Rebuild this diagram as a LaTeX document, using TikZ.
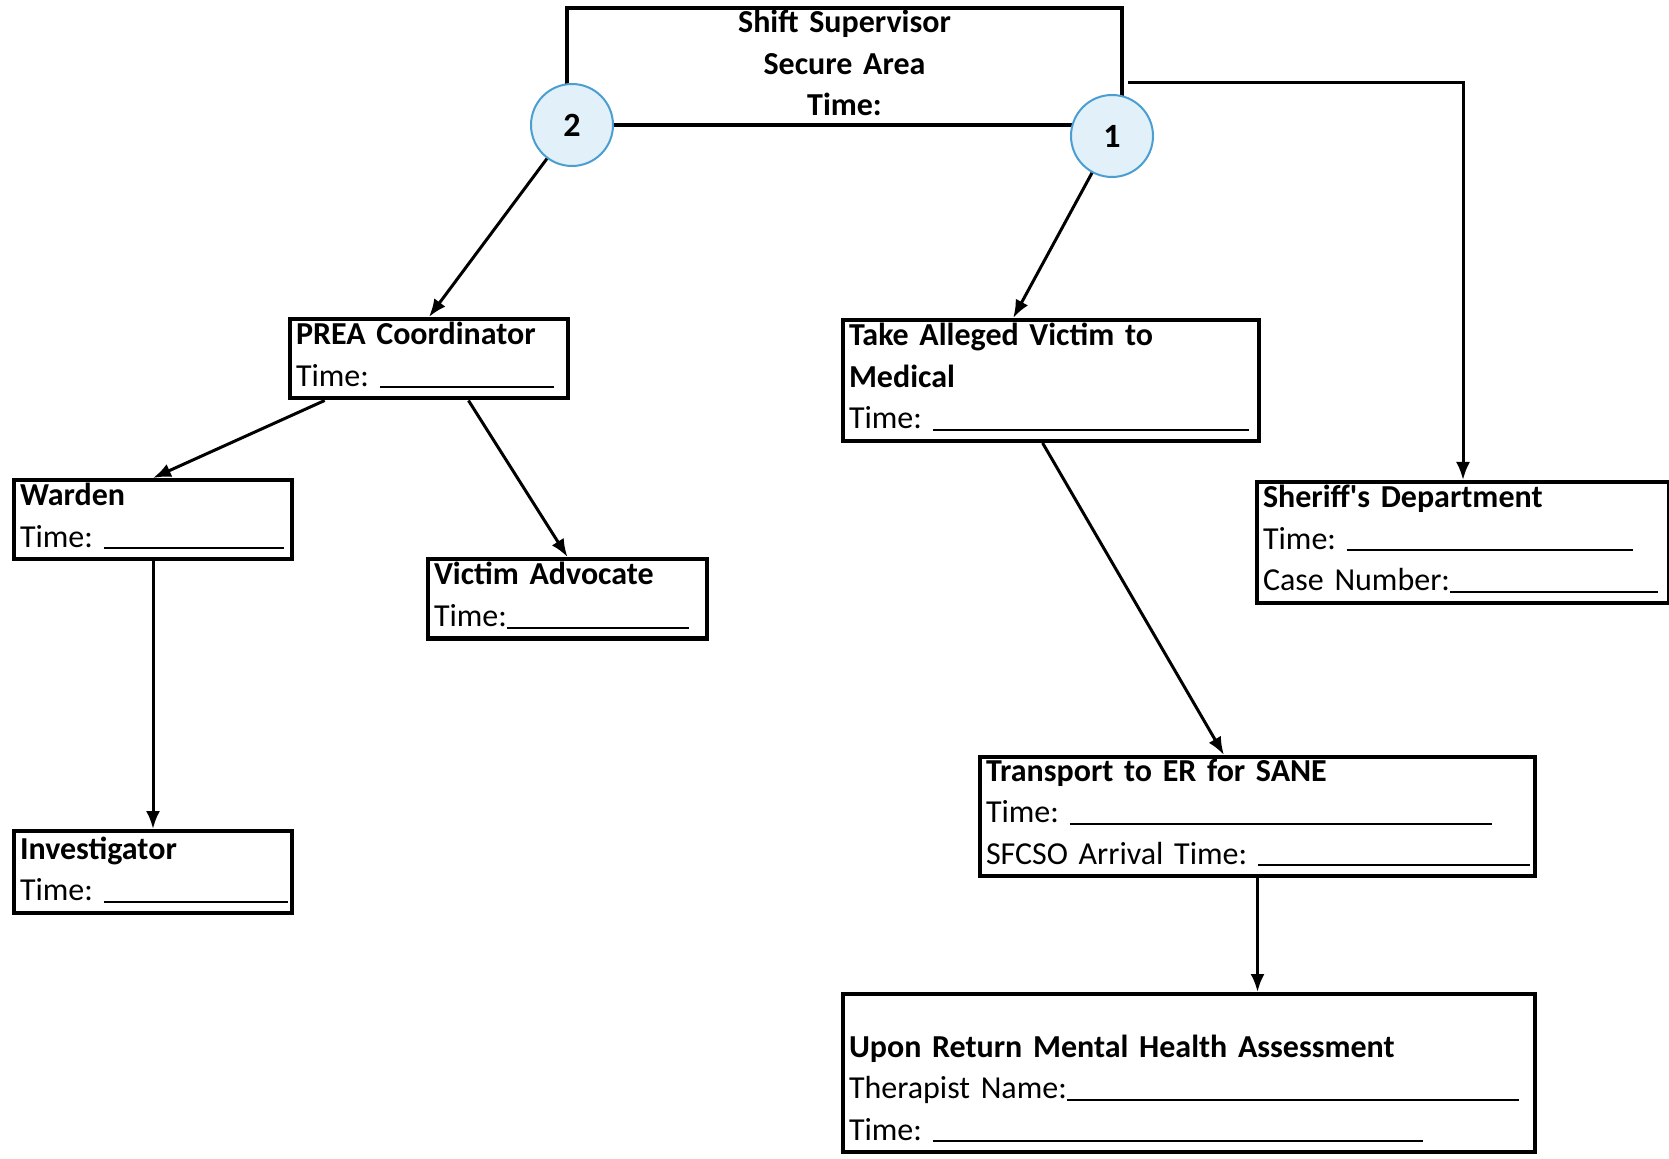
\documentclass[tikz,border=0pt]{standalone}
\usepackage{fontspec}
\setmainfont{Carlito}
\usetikzlibrary{arrows.meta, calc}
\definecolor{badgefill}{HTML}{E2F0F9}
\definecolor{badgeline}{HTML}{4A9ED0}
\newcommand{\blank}[1]{\rule[-1pt]{#1}{1pt}}
\newcommand{\topgap}[1][13pt]{\rule{0pt}{#1}}
\newcommand{\botgap}{\rule[-6pt]{0pt}{6pt}}
\tikzset{
    box/.style={draw, line width=2pt, anchor=north west, inner xsep=3pt, inner ysep=0pt,
        align=left, text width=#1, font=\fontsize{16}{20.75}\selectfont\frenchspacing},
    badge/.style={circle, draw=badgeline, fill=badgefill, line width=1pt, minimum size=41pt,
        font=\fontsize{17}{20}\selectfont\bfseries},
    link/.style={line width=1.5pt, -{Latex[length=9pt, width=7pt]}}
}

\begin{document}
\begin{tikzpicture}[x=0.5pt, y=-0.5pt]
    \useasboundingbox (0,0) rectangle (1669,1159);

    \node[box=271.5pt, align=center] (sup) at (565,6) {\topgap[12.5pt]\textbf{Shift Supervisor}\\ \textbf{Secure Area}\\ \textbf{Time:}\rule[-4.5pt]{0pt}{4.5pt}};
    \node[badge]                     (c2)  at (572,125)  {2};
    \node[badge]                     (c1)  at (1112,136) {1};

    \node[box=133pt]    (prea)      at (288,317)  {\topgap\textbf{PREA Coordinator}\\ \mbox{Time: \blank{87pt}}\botgap};
    \node[box=133pt]    (warden)    at (12,478)   {\topgap\textbf{Warden}\\ \mbox{Time: \blank{90pt}}\botgap};
    \node[box=133.5pt]  (advocate)  at (426,557)  {\topgap\textbf{Victim Advocate}\\ \mbox{Time:\blank{91pt}}\botgap};
    \node[box=133pt]    (invest)    at (12,829)   {\topgap[14pt]\textbf{Investigator}\\ \mbox{Time: \blank{92pt}}\botgap};
    \node[box=202pt]    (medical)   at (841,318)  {\topgap\textbf{Take Alleged Victim to}\\ \textbf{Medical}\\ \mbox{Time: \blank{158pt}}\botgap};
    \node[box=200pt]    (sheriff)   at (1255,480) {\topgap\textbf{Sheriff\textquotesingle s Department}\\ \mbox{Time: \blank{143pt}}\\ \mbox{Case Number:\blank{104pt}}\botgap};
    \node[box=271.5pt]  (transport) at (978,755)  {\topgap[12pt]\textbf{Transport to ER for SANE}\\ \mbox{Time: \blank{211pt}}\\ \mbox{SFCSO Arrival Time: \blank{136pt}}\botgap};
    \node[box=340pt]    (mental)    at (841,992)  {\topgap[31.5pt]\textbf{Upon Return Mental Health Assessment}\\ \mbox{Therapist Name:\blank{226pt}}\\ \mbox{Time: \blank{245pt}}\botgap};

    \draw[link] (c2) -- (prea.north);
    \draw[link] (c1) -- ($(medical.north west)!.41!(medical.north east)$);
    \draw[link] ([xshift=2pt, yshift=-8pt]sup.east) -| (sheriff.north);
    \draw[link] ($(prea.south west)!.13!(prea.south east)$) -- (warden.north);
    \draw[link] ($(prea.south west)!.64!(prea.south east)$) -- (advocate.north);
    \draw[link] (warden.south) -- (invest.north);
    \draw[link] ($(medical.south west)!.48!(medical.south east)$) -- ($(transport.north west)!.44!(transport.north east)$);
    \draw[link] (transport.south) -- (transport.south |- mental.north);
\end{tikzpicture}
\end{document}
